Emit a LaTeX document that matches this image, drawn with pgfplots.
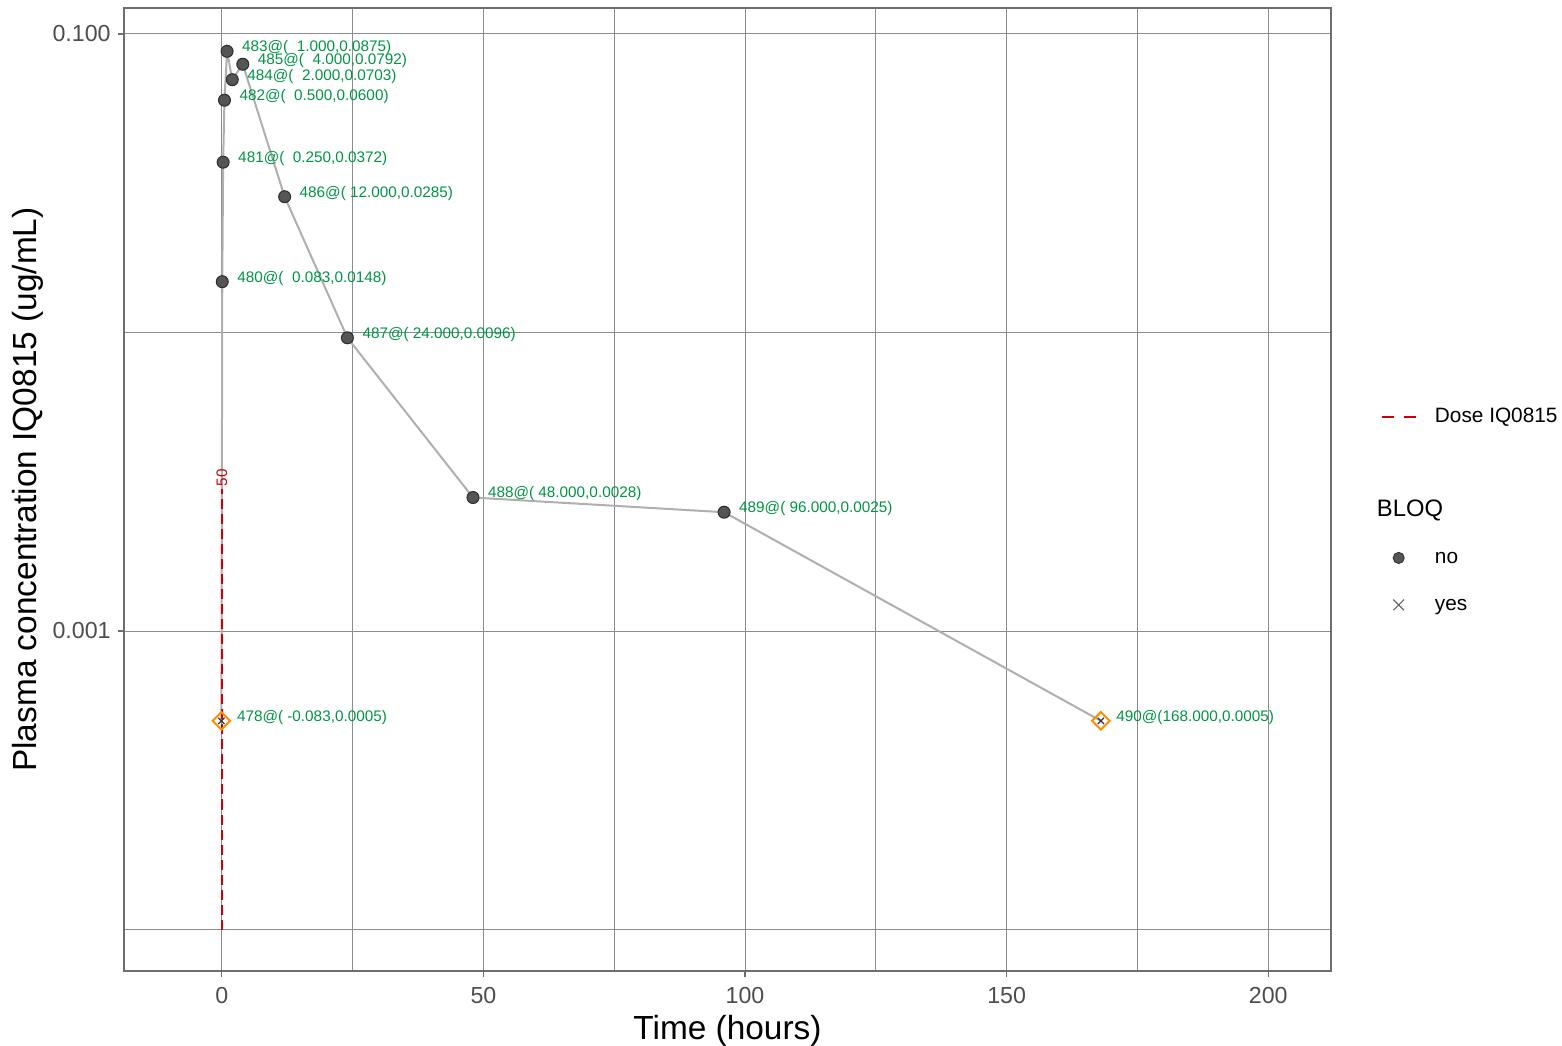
\documentclass[border=0pt]{standalone}
\usepackage{fontspec}
\setmainfont{Liberation Sans}
\usepackage{pgfplots}
\pgfplotsset{compat=1.18}
\definecolor{lblgreen}{RGB}{0,148,68}
\definecolor{doseRed}{RGB}{200,0,10}
\definecolor{ptfill}{RGB}{85,85,85}
\definecolor{ptdraw}{RGB}{45,45,45}
\definecolor{lineGray}{RGB}{175,175,175}
\definecolor{gridGray}{RGB}{140,140,140}
\definecolor{frameGray}{RGB}{110,110,110}
\definecolor{tickText}{RGB}{77,77,77}
\definecolor{bloqOrange}{RGB}{255,140,0}
\begin{document}
\begin{tikzpicture}
\path[use as bounding box] (-62pt,-37pt) rectangle (719pt,485.5pt);
\begin{axis}[
  at={(0,0)}, anchor=south west,
  scale only axis, width=603.5pt, height=481.5pt,
  xmin=-18.7, xmax=212.0,
  ymode=log, log basis y=10, ymin=7.26e-5, ymax=0.1222,
  xtick={0,50,100,150,200}, xticklabels={0,50,100,150,200},
  minor xtick={25,75,125,175},
  ytick={0.1,0.001}, yticklabels={0.100,0.001},
  minor ytick={0.01,0.0001},
  grid=both,
  major grid style={draw=gridGray, line width=0.5pt},
  minor grid style={draw=gridGray, line width=0.5pt},
  axis line style={draw=frameGray, line width=1pt},
  tick align=outside, major tick length=3pt, minor tick length=0pt,
  tick style={draw=frameGray, line width=0.6pt},
  xtick pos=bottom, ytick pos=left,
  /pgf/number format/assume math mode=true,
  ticklabel style={font=\fontsize{11.6}{13}\selectfont, text=tickText, inner sep=0pt},
  xticklabel style={anchor=north, yshift=-5pt},
  yticklabel style={anchor=east, xshift=-3.5pt},
  xlabel={Time (hours)}, ylabel={Plasma concentration IQ0815 (ug/mL)},
  label style={font=\fontsize{16.7}{19}\selectfont},
  xlabel style={at={(axis description cs:0.5,-0.0623)}, anchor=center},
  ylabel style={at={(axis description cs:-0.0795,0.5)}, anchor=center},
  legend style={draw=none, fill=none, inner sep=0pt, at={(axis description cs:1.0406,0.5862)}, anchor=north west,
    font=\fontsize{10.4}{12}\selectfont, row sep=13.5pt, column sep=9pt,
    nodes={inner sep=0pt, text height=8pt, text depth=2pt}},
  legend cell align=left,
]
\addlegendimage{doseRed, line width=1.2pt, dash pattern=on 6pt off 5pt}
\addlegendentry{Dose IQ0815}
\addlegendimage{empty legend}
\addlegendentry{}
\addlegendimage{empty legend}
\addlegendentry{\hspace*{-29pt}\fontsize{11.9}{13}\selectfont BLOQ}
\addlegendimage{only marks, mark=*, mark size=2.8pt, mark options={fill=ptfill, draw=ptdraw, line width=0.4pt}}
\addlegendentry{no}
\addlegendimage{only marks, mark=x, mark size=3.8pt, mark options={draw=black!60, line width=0.6pt}}
\addlegendentry{yes}

\addplot[lineGray, line width=1pt, forget plot] coordinates {
  (-0.083,0.0005) (0.083,0.0148) (0.25,0.0372) (0.5,0.0600) (1,0.0875)
  (2,0.0703) (4,0.0792) (12,0.0285) (24,0.0096) (48,0.0028) (96,0.0025) (168,0.0005)
};
\addplot[doseRed, line width=1.2pt, dash pattern=on 5pt off 2.5pt, forget plot] coordinates {
  (0,0.0001) (0,0.003)
} node[pos=1, rotate=90, anchor=west, inner sep=0.5pt, text=doseRed, font=\fontsize{7.6}{9}\selectfont] {50};

\addplot[only marks, mark=*, mark size=3pt, mark options={fill=ptfill, draw=ptdraw, line width=0.5pt}, forget plot,
  point meta=explicit symbolic, nodes near coords,
  nodes near coords style={anchor=west, inner sep=0pt, xshift=7.3pt, yshift=1.8pt, text=lblgreen, font=\fontsize{7.65}{9}\selectfont}]
coordinates {
  (0.083,0.0148) [480@(~~0.083,0.0148)]
  (0.25,0.0372) [481@(~~0.250,0.0372)]
  (0.5,0.0600) [482@(~~0.500,0.0600)]
  (1,0.0875) [483@(~~1.000,0.0875)]
  (2,0.0703) [484@(~~2.000,0.0703)]
  (4,0.0792) [485@(~~4.000,0.0792)]
  (12,0.0285) [486@(~12.000,0.0285)]
  (24,0.0096) [487@(~24.000,0.0096)]
  (48,0.0028) [488@(~48.000,0.0028)]
  (96,0.0025) [489@(~96.000,0.0025)]
};

\addplot[only marks, mark=square, mark size=3.1pt, mark options={draw=bloqOrange, line width=1pt, rotate=45}, forget plot,
  point meta=explicit symbolic, nodes near coords,
  nodes near coords style={anchor=west, inner sep=0pt, xshift=7.3pt, yshift=1.8pt, text=lblgreen, font=\fontsize{7.65}{9}\selectfont}]
coordinates {
  (-0.083,0.0005) [478@(~-0.083,0.0005)]
  (168,0.0005) [490@(168.000,0.0005)]
};
\addplot[only marks, mark=x, mark size=2.2pt, mark options={draw=black!80, line width=0.6pt}, forget plot] coordinates {
  (-0.083,0.0005) (168,0.0005)
};
\end{axis}
\end{tikzpicture}
\end{document}
